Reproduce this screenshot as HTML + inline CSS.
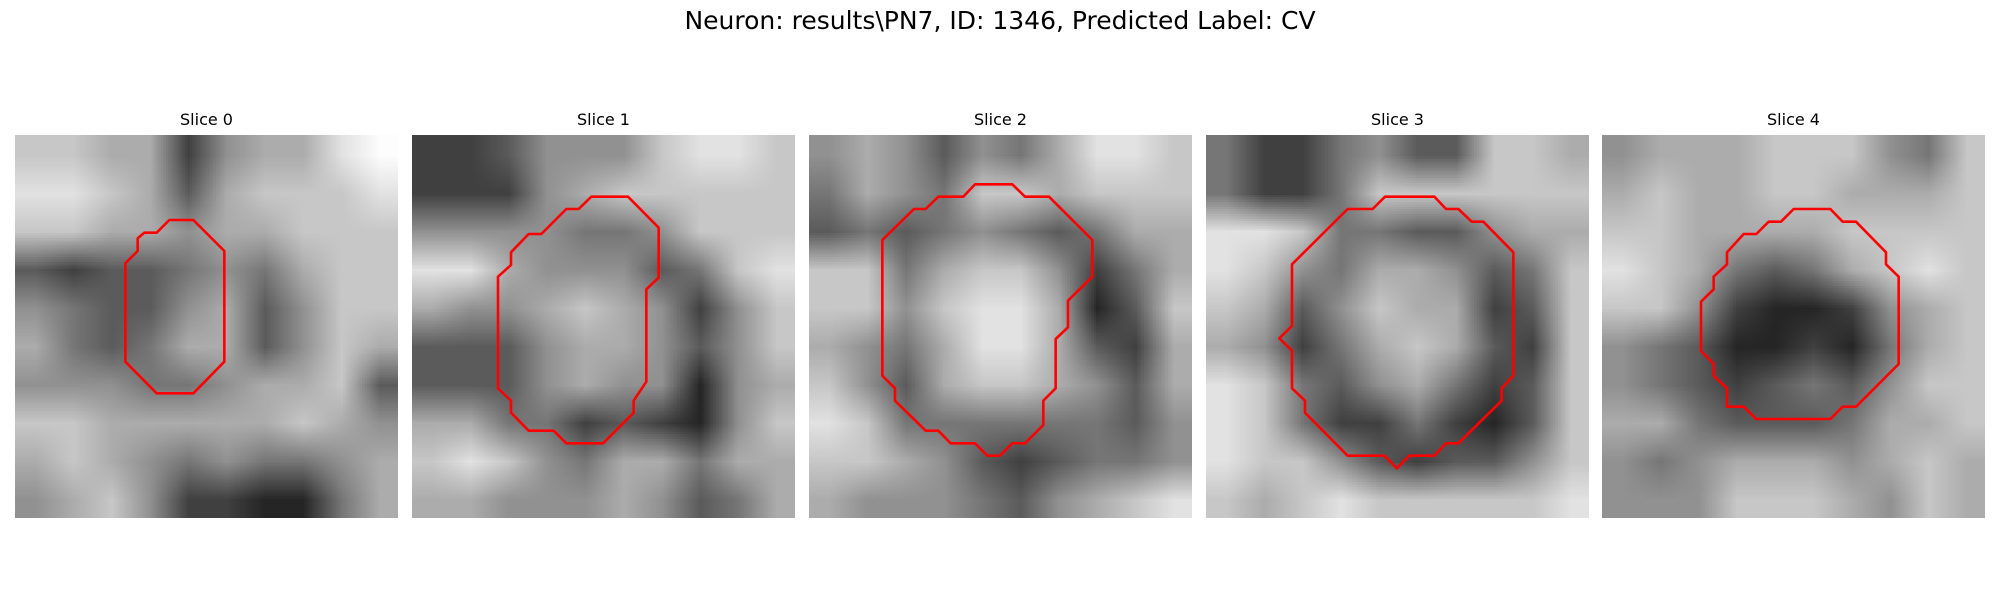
<!DOCTYPE html>
<html><head><meta charset="utf-8"><style>
html,body{margin:0;padding:0;background:#fff;width:2000px;height:600px;overflow:hidden;font-family:"DejaVu Sans","Liberation Sans",sans-serif;}
#main-title{position:absolute;left:0;width:2000px;top:6px;text-align:center;font-size:25px;color:#000;}
.panel{position:absolute;top:135px;width:383px;height:383px;}
.panel canvas{position:absolute;left:0;top:0;width:383px;height:383px;}
.panel svg{position:absolute;left:0;top:0;}
.ptitle{position:absolute;top:110px;width:383px;text-align:center;font-size:16px;color:#000;}
</style></head><body>
<div id="main-title">Neuron: results\PN7, ID: 1346, Predicted Label: CV</div>
<div id="root"></div>
<script>
const sliceLabels = ["Slice 0","Slice 1","Slice 2","Slice 3","Slice 4"];
const gray0 = ["7766256689","8876367778","7766566777","3233454677","5433563577","6434663576","5554456673","7766666765","6765454456","5675221146"];
const gray1 = ["2235557887","2225677777","5555445777","8865553478","6556765257","3335665357","3335655156","6644232157","7875466466","6655565346"];
const gray2 = ["5653546887","4654776777","3434543466","7746775246","7757886137","6546886326","7536776536","8744444435","7765323445","6555435678"];
const gray3 = ["4224533776","4224777777","8874433566","8754665347","7635766237","6524676327","8743564237","8742242137","8775323357","7678777778"];
const gray4 = ["5666777547","6766776667","7766667777","8764346787","7752112567","5431121467","5432343577","6643334667","5456665676","5557776576"];
const contour0 = [[508,360],[580,360],[673,453],[673,785],[580,880],[470,880],[376,785],[376,490],[413,453],[413,415],[433,398],[470,398]];
const contour1 = [[538,185],[648,185],[740,278],[740,428],[703,463],[703,740],[665,797],[665,833],[573,925],[463,925],[425,887],[350,887],[297,833],[297,797],[258,760],[258,425],[297,390],[297,352],[350,297],[388,297],[463,222],[500,222]];
const contour2 = [[498,148],[610,148],[648,185],[720,185],[850,315],[850,425],[777,497],[777,577],[740,612],[740,760],[703,797],[703,870],[648,925],[610,925],[573,962],[535,962],[498,925],[425,925],[388,887],[350,887],[258,797],[258,760],[220,722],[220,315],[315,222],[350,222],[388,185],[463,185]];
const contour3 = [[537,185],[685,185],[720,222],[757,222],[797,260],[832,260],[922,352],[922,722],[887,760],[887,797],[757,925],[720,925],[685,962],[610,962],[573,1000],[535,962],[425,962],[297,833],[297,797],[258,760],[258,647],[220,610],[258,573],[258,388],[425,222],[500,222]];
const contour4 = [[575,222],[685,222],[722,260],[762,260],[852,352],[852,388],[890,425],[890,687],[762,815],[722,815],[685,852],[463,852],[425,815],[375,815],[375,760],[335,722],[335,687],[297,648],[297,500],[335,463],[335,425],[375,388],[375,352],[425,297],[463,297],[500,260],[537,260]];
const panelLefts = [15,412,809,1206,1602];
const grays = [gray0,gray1,gray2,gray3,gray4];
const contours = [contour0,contour1,contour2,contour3,contour4];
const offs = [[45,105],[0,0],[0,0],[0,0],[0,0]];
const root = document.getElementById('root');
const NS = "http://www.w3.org/2000/svg";
for (let p = 0; p < 5; p++) {
  const t = document.createElement('div');
  t.className = 'ptitle';
  t.style.left = panelLefts[p] + 'px';
  t.textContent = sliceLabels[p];
  
  
  root.appendChild(t);
  const pan = document.createElement('div');
  pan.className = 'panel';
  pan.style.left = panelLefts[p] + 'px';
  
  
  const cv = document.createElement('canvas');
  cv.width = 10; cv.height = 10;
  
  
  const ctx = cv.getContext('2d');
  const g = grays[p];
  for (let r = 0; r < 10; r++) for (let c = 0; c < 10; c++) {
    const v = 10 + parseInt(g[r][c]) * 27;
    ctx.fillStyle = 'rgb(' + v + ',' + v + ',' + v + ')';
    ctx.fillRect(c, r, 1, 1);
  }
  pan.appendChild(cv);
  const svg = document.createElementNS(NS, 'svg');
  svg.setAttribute('width', '383'); svg.setAttribute('height', '383');
  const pl = document.createElementNS(NS, 'polygon');
  pl.setAttribute('points', contours[p].map(q => ((q[0]-offs[p][0])/3) + ',' + ((q[1]-offs[p][1])/3)).join(' '));
  pl.setAttribute('fill', 'none');
  pl.setAttribute('stroke', '#ff0000');
  pl.setAttribute('stroke-width', '2.6');
  pl.setAttribute('stroke-linejoin', 'round');
  
  
  svg.appendChild(pl);
  pan.appendChild(svg);
  root.appendChild(pan);
}
</script>
</body></html>
